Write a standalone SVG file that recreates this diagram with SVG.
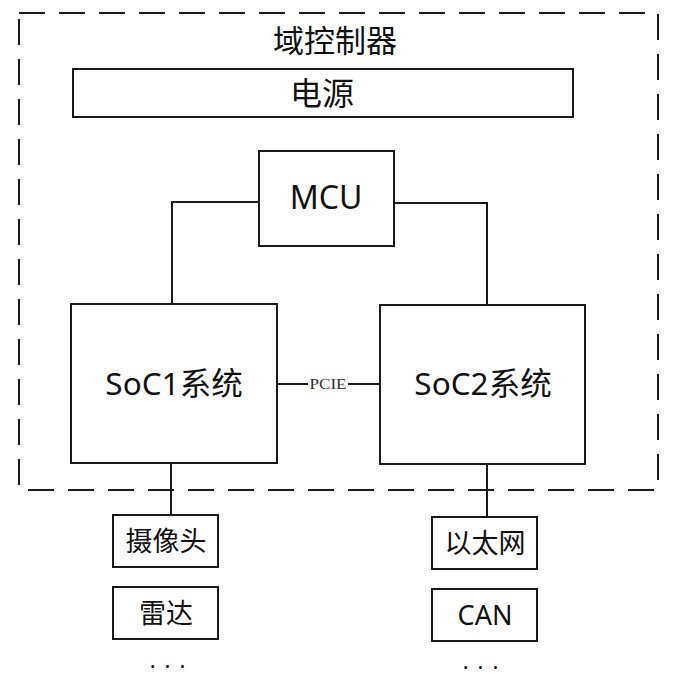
<svg xmlns="http://www.w3.org/2000/svg" width="680" height="682" viewBox="0 0 680 682">
<style>
.box{fill:#fff;stroke:#1a1a1a;stroke-width:2}
.ln{fill:none;stroke:#1a1a1a;stroke-width:2}
.t{font-family:"Noto Sans","Noto Sans CJK SC",sans-serif;fill:#111;text-anchor:middle}
.big{font-size:31.5px}
.sm{font-size:27px}
</style>
<rect width="680" height="682" fill="#fff"/>
<g id="container">
<rect x="19" y="13" width="639" height="477" fill="none" stroke="#1a1a1a" stroke-width="2" stroke-dasharray="26 14"/>
<text class="t" x="335" y="52" style="font-size:31px">域控制器</text>
</g>
<g id="connectors">
<polyline class="ln" points="259,202 172,202 172,304"/>
<polyline class="ln" points="394,203 487,203 487,305"/>
<line class="ln" x1="277" y1="384" x2="380" y2="384"/>
<rect x="308" y="375" width="40" height="17" fill="#fff"/>
<text x="328" y="389" font-family="Liberation Serif,serif" font-size="15" fill="#333" text-anchor="middle" textLength="37" lengthAdjust="spacingAndGlyphs">PCIE</text>
<line class="ln" x1="171" y1="463" x2="171" y2="515"/>
<line class="ln" x1="487" y1="464" x2="487" y2="517"/>
</g>
<g id="power">
<rect class="box" x="73" y="69" width="500" height="48"/>
<text class="t" x="322" y="105" style="font-size:32px">电源</text>
</g>
<g id="mcu">
<rect class="box" x="259" y="151" width="135" height="95"/>
<text class="t" x="326" y="209" style="font-size:32px">MCU</text>
</g>
<g id="soc1">
<rect class="box" x="71" y="304" width="206" height="159"/>
<text class="t big" x="174" y="395">SoC1系统</text>
</g>
<g id="soc2">
<rect class="box" x="380" y="305" width="205" height="159"/>
<text class="t big" x="483" y="395">SoC2系统</text>
</g>
<g id="camera">
<rect class="box" x="113" y="515" width="105" height="52"/>
<text class="t sm" x="166" y="551">摄像头</text>
</g>
<g id="radar">
<rect class="box" x="113" y="587" width="105" height="52"/>
<text class="t sm" x="166" y="623">雷达</text>
</g>
<g id="ethernet">
<rect class="box" x="432" y="517" width="105" height="52"/>
<text class="t sm" x="485" y="553">以太网</text>
</g>
<g id="can">
<rect class="box" x="432" y="589" width="105" height="52"/>
<text class="t sm" x="485" y="625">CAN</text>
</g>
<g id="more">
<text class="t" x="172" y="668" style="font-size:22px" letter-spacing="9">...</text>
<text class="t" x="485" y="669" style="font-size:22px" letter-spacing="9">...</text>
</g>
</svg>
